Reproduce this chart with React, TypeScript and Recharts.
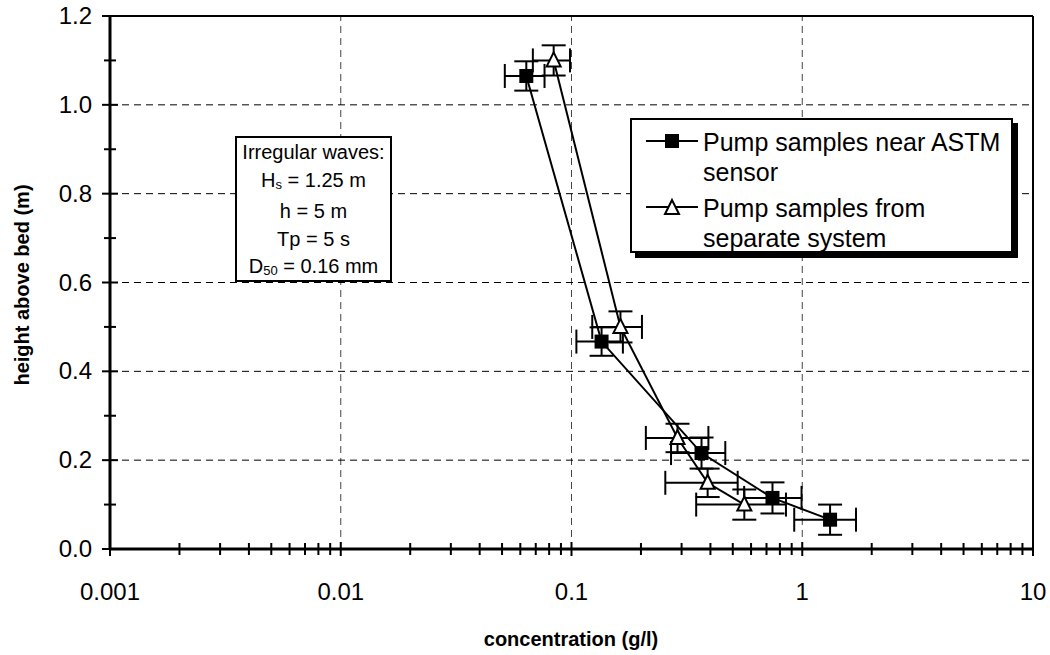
import React from "react";
import {
  ScatterChart,
  Scatter,
  XAxis,
  YAxis,
  ErrorBar,
  ReferenceLine,
  Legend,
  Label,
} from "recharts";

// pump samples near ASTM sensor (filled squares)
const ASTM_CONC = [0.0637, 0.135, 0.366, 0.743, 1.32];
const ASTM_HEIGHT = [1.065, 0.467, 0.216, 0.115, 0.066];
const ASTM_CONC_LO = [0.0514, 0.105, 0.27, 0.56, 0.923];
const ASTM_CONC_HI = [0.0764, 0.167, 0.464, 0.993, 1.71];
const ASTM_HEIGHT_ERR = [0.033, 0.032, 0.035, 0.035, 0.034];

// pump samples from separate system (open triangles)
const SEP_CONC = [0.0837, 0.163, 0.288, 0.389, 0.561];
const SEP_HEIGHT = [1.1, 0.5, 0.25, 0.149, 0.1];
const SEP_CONC_LO = [0.068, 0.123, 0.21, 0.255, 0.347];
const SEP_CONC_HI = [0.0985, 0.202, 0.392, 0.525, 0.85];
const SEP_HEIGHT_ERR = [0.034, 0.035, 0.032, 0.032, 0.034];

const SERIES_NAMES = ["Pump samples near ASTM sensor", "Pump samples from separate system"];
const SERIES_LINES = [
  ["Pump samples near ASTM", "sensor"],
  ["Pump samples from", "separate system"],
];

const X_DECADES = [0.001, 0.01, 0.1, 1, 10];
const X_GRID = [0.01, 0.1, 1];
const Y_TICKS = [0, 0.1, 0.2, 0.3, 0.4, 0.5, 0.6, 0.7, 0.8, 0.9, 1.0, 1.1, 1.2];
const Y_GRID = [0.2, 0.4, 0.6, 0.8, 1.0];

const X_TICKS = X_DECADES.flatMap((d) =>
  d === 10 ? [d] : [1, 2, 3, 4, 5, 6, 7, 8, 9].map((m) => +(d * m).toPrecision(3))
);

const build = (xs: number[], ys: number[], lo: number[], hi: number[], ye: number[]) =>
  xs.map((x, i) => ({ x, y: ys[i], ex: [x - lo[i], hi[i] - x], ey: ye[i] }));

const astmData = build(ASTM_CONC, ASTM_HEIGHT, ASTM_CONC_LO, ASTM_CONC_HI, ASTM_HEIGHT_ERR);
const sepData = build(SEP_CONC, SEP_HEIGHT, SEP_CONC_LO, SEP_CONC_HI, SEP_HEIGHT_ERR);

const FONT = "'Liberation Sans', Arial, sans-serif";

const Square = ({ cx, cy }: any) => <rect x={cx - 7} y={cy - 7} width={14} height={14} fill="#000" />;
const Triangle = ({ cx, cy }: any) => (
  <polygon
    points={`${cx},${cy - 8} ${cx - 7},${cy + 6} ${cx + 7},${cy + 6}`}
    fill="#fff"
    stroke="#000"
    strokeWidth={2}
  />
);

const isDecade = (v: number) => Math.abs(Math.log10(v) - Math.round(Math.log10(v))) < 1e-6;

const XTick = ({ x, y, payload }: any) => {
  const v = payload.value;
  const major = isDecade(v);
  const h = major ? 7 : 6;
  return (
    <g>
      <line x1={x} x2={x} y1={y - h} y2={y + h} stroke="#000" strokeWidth={2} />
      {major && (
        <text x={x} y={y + 51} textAnchor="middle" fontSize={24} fill="#000">
          {String(v)}
        </text>
      )}
    </g>
  );
};

const YTick = ({ x, y, payload }: any) => {
  const v = payload.value;
  const major = Math.round(v * 10) % 2 === 0;
  const w = major ? 8 : 6;
  return (
    <g>
      <line x1={x - w} x2={x + w} y1={y} y2={y} stroke="#000" strokeWidth={2} />
      {major && (
        <text x={x - 18} y={y + 8} textAnchor="end" fontSize={24} fill="#000">
          {v.toFixed(1)}
        </text>
      )}
    </g>
  );
};

const LegendBox = () => (
  <div
    style={{
      border: "2px solid #000",
      boxShadow: "5px 5px 0 #000",
      background: "#fff",
      width: 383,
      height: 135,
      boxSizing: "border-box",
      padding: "7px 0 0 12px",
      fontFamily: FONT,
      fontSize: 25,
      lineHeight: "30px",
      color: "#000",
    }}
  >
    {SERIES_LINES.map((lines, i) => (
      <div key={SERIES_NAMES[i]} style={{ display: "flex", marginBottom: 6 }}>
        <svg width={59} height={30} style={{ flexShrink: 0 }}>
          <line x1={2} x2={54} y1={14} y2={14} stroke="#000" strokeWidth={2} />
          {i === 0 ? <Square cx={28} cy={14} /> : <Triangle cx={28} cy={15} />}
        </svg>
        <div>
          {lines.map((t) => (
            <div key={t}>{t}</div>
          ))}
        </div>
      </div>
    ))}
  </div>
);

const INFO_LINES = ["Irregular waves:", "Hs = 1.25 m", "h = 5 m", "Tp = 5 s", "D50 = 0.16 mm"];

const InfoLine = ({ t }: { t: string }) => {
  if (t.startsWith("Hs"))
    return (
      <div>
        H<sub style={{ fontSize: 13, verticalAlign: "-2px" }}>s</sub>
        {t.slice(2)}
      </div>
    );
  if (t.startsWith("D50"))
    return (
      <div>
        D<sub style={{ fontSize: 13, verticalAlign: "-2px" }}>50</sub>
        {t.slice(3)}
      </div>
    );
  return <div>{t}</div>;
};

export default function App() {
  return (
    <div style={{ position: "absolute", left: 0, top: 0, width: 1050, height: 655, background: "#fff", fontFamily: FONT }}>
      <ScatterChart width={1050} height={655} margin={{ top: 16, right: 17, left: 0, bottom: 0 }}>
        <XAxis
          type="number"
          dataKey="x"
          scale="log"
          domain={[0.001, 10]}
          allowDataOverflow
          ticks={X_TICKS}
          interval={0}
          tickSize={0}
          tickMargin={0}
          tick={<XTick />}
          height={106}
          axisLine={{ stroke: "#000", strokeWidth: 3 }}
          tickLine={false}
        >
          <Label
            content={() => (
              <text x={571} y={646} textAnchor="middle" fontSize={20} fontWeight="bold" fill="#000">
                concentration (g/l)
              </text>
            )}
          />
        </XAxis>
        <YAxis
          type="number"
          dataKey="y"
          domain={[0, 1.2]}
          ticks={Y_TICKS}
          interval={0}
          tickSize={0}
          tickMargin={0}
          tick={<YTick />}
          width={110}
          axisLine={{ stroke: "#000", strokeWidth: 3 }}
          tickLine={false}
        >
          <Label
            content={() => (
              <text
                x={29}
                y={285}
                transform="rotate(-90 29 285)"
                textAnchor="middle"
                fontSize={20}
                fontWeight="bold"
                fill="#000"
              >
                height above bed (m)
              </text>
            )}
          />
        </YAxis>
        {X_GRID.map((v) => (
          <ReferenceLine key={"gx" + v} x={v} stroke="#444" strokeDasharray="7 5" strokeWidth={1} />
        ))}
        {Y_GRID.map((v) => (
          <ReferenceLine key={"gy" + v} y={v} stroke="#000" strokeDasharray="7 5" strokeWidth={1} />
        ))}
        <ReferenceLine y={1.2} stroke="#000" strokeWidth={2} />
        <ReferenceLine x={10} stroke="#000" strokeWidth={2} />
        <Legend
          layout="vertical"
          align="center"
          verticalAlign="middle"
          wrapperStyle={{ left: 630, top: 118, width: 392, height: 144 }}
          content={() => <LegendBox />}
        />
        <Scatter
          name={SERIES_NAMES[0]}
          data={astmData}
          line={{ stroke: "#000", strokeWidth: 2 }}
          shape={<Square />}
          isAnimationActive={false}
        >
          <ErrorBar dataKey="ex" direction="x" width={12} stroke="#000" strokeWidth={2} />
          <ErrorBar dataKey="ey" direction="y" width={12} stroke="#000" strokeWidth={2} />
        </Scatter>
        <Scatter
          name={SERIES_NAMES[1]}
          data={sepData}
          line={{ stroke: "#000", strokeWidth: 2 }}
          shape={<Triangle />}
          isAnimationActive={false}
        >
          <ErrorBar dataKey="ex" direction="x" width={12} stroke="#000" strokeWidth={2} />
          <ErrorBar dataKey="ey" direction="y" width={12} stroke="#000" strokeWidth={2} />
        </Scatter>
      </ScatterChart>
      <div
        style={{
          position: "absolute",
          left: 235,
          top: 136,
          width: 157,
          height: 146,
          boxSizing: "border-box",
          border: "2px solid #000",
          background: "#fff",
          textAlign: "center",
          fontSize: 20,
          lineHeight: "27.5px",
          paddingTop: 1,
          color: "#000",
        }}
      >
        {INFO_LINES.map((t) => (
          <InfoLine key={t} t={t} />
        ))}
      </div>
    </div>
  );
}
